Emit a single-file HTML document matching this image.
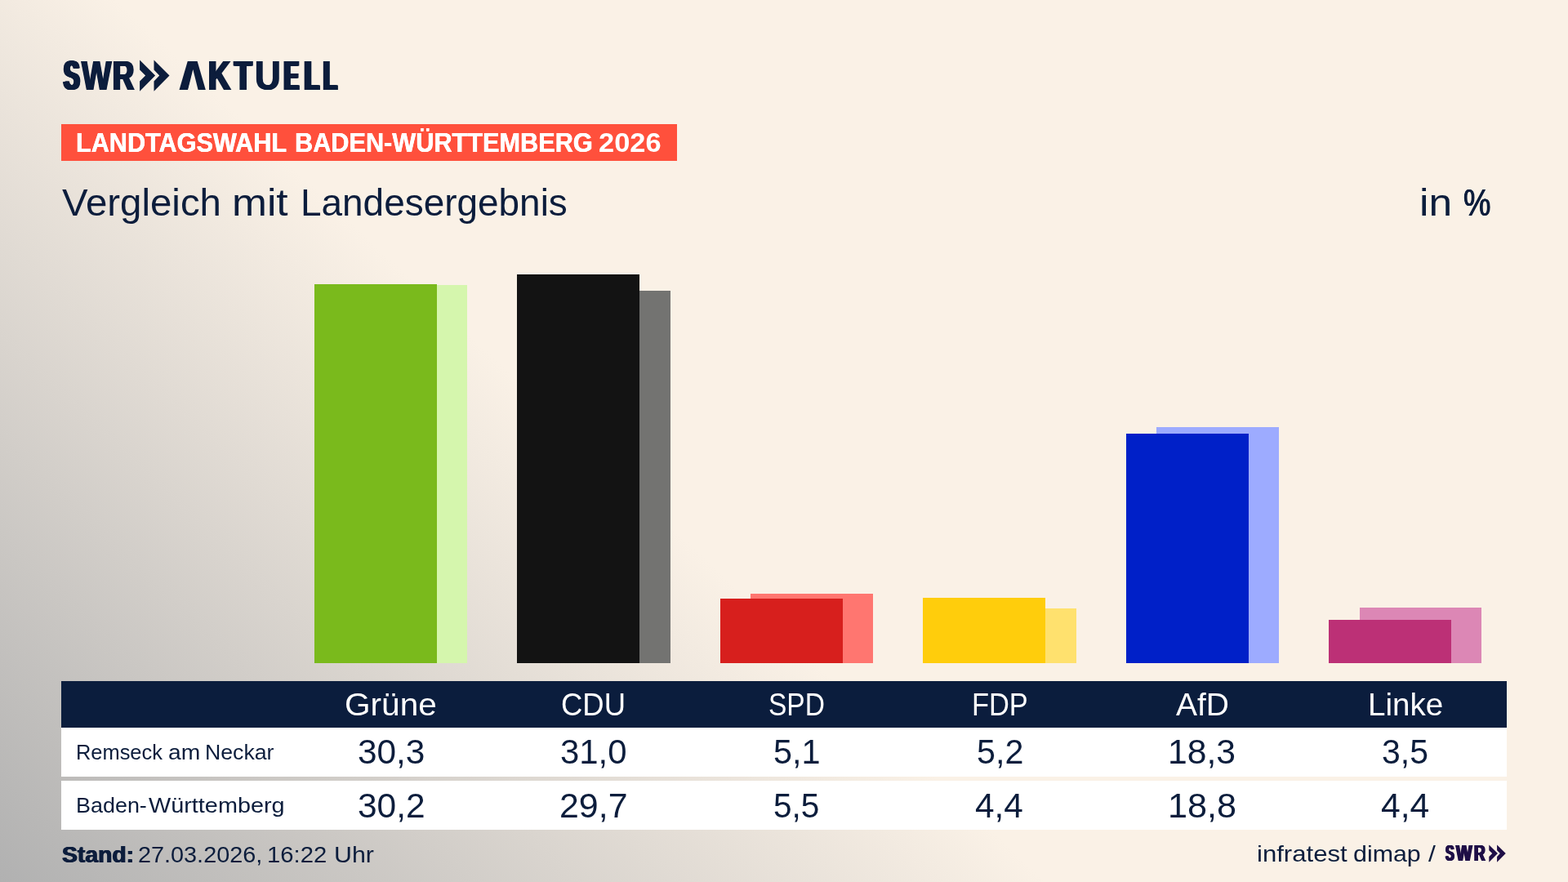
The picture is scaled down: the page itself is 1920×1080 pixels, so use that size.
<!DOCTYPE html>
<html lang="de">
<head>
<meta charset="utf-8">
<title>SWR Aktuell – Landtagswahl Baden-Württemberg 2026 – Vergleich mit Landesergebnis</title>
<style>
html,body{margin:0;padding:0;}
body{width:1920px;height:1080px;overflow:hidden;position:relative;
  font-family:"Liberation Sans",sans-serif;color:#0c1d3c;background:#faf1e6;}
#bg{position:absolute;left:0;top:0;width:1920px;height:1080px;
  background:linear-gradient(43.5deg,#b1b1b1 0px,#faf1e6 882px);}
.t{position:absolute;white-space:nowrap;line-height:1;transform-origin:0 0;margin:0;padding:0;}
.w{left:0;font-size:0;}
.w span{display:inline-block;position:relative;width:0;transform-origin:0 0;font-size:var(--fs);}
#tag{position:absolute;left:75px;top:152px;width:754px;height:45px;background:#ff503c;}
#thead{position:absolute;left:75px;top:834px;width:1770px;height:57px;background:#0b1d3d;}
.row{position:absolute;left:75px;width:1770px;height:60px;background:#fff;}
svg{position:absolute;left:0;top:0;}
</style>
</head>
<body>
<div id="bg"></div>

<header>
<div id="tag"></div>
<div class="t w" id="swr" style="top:67.75px;--fs:50.75px;font-weight:700;color:#0c1d3c;"><span style="left:78px;transform:scaleX(0.5752);text-shadow:0.86px 0 0 #0c1d3c,-0.86px 0 0 #0c1d3c,1.71px 0 0 #0c1d3c,-1.71px 0 0 #0c1d3c,2.57px 0 0 #0c1d3c,-2.57px 0 0 #0c1d3c,3.42px 0 0 #0c1d3c,-3.42px 0 0 #0c1d3c;">S</span><span style="left:100px;transform:scaleX(0.7586);text-shadow:0.74px 0 0 #0c1d3c,-0.74px 0 0 #0c1d3c,1.48px 0 0 #0c1d3c,-1.48px 0 0 #0c1d3c;">W</span><span style="left:138px;transform:scaleX(0.7140);text-shadow:0.98px 0 0 #0c1d3c,-0.98px 0 0 #0c1d3c,1.97px 0 0 #0c1d3c,-1.97px 0 0 #0c1d3c;">R</span></div>
<div class="t w" id="akt" style="top:67.75px;--fs:50.5px;font-weight:700;color:#0c1d3c;"><span style="left:221px;transform:scaleX(0.8059);text-shadow:0.77px 0 0 #0c1d3c,-0.77px 0 0 #0c1d3c,1.55px 0 0 #0c1d3c,-1.55px 0 0 #0c1d3c,2.32px 0 0 #0c1d3c,-2.32px 0 0 #0c1d3c,3.09px 0 0 #0c1d3c,-3.09px 0 0 #0c1d3c;clip-path:polygon(-20.00px -20.00px,75.75px -20.00px,75.75px 75.75px,26.93px 75.75px,26.93px 42.75px,18.99px 17.25px,11.17px 42.75px,11.17px 75.75px,-20.00px 75.75px);">A</span><span style="left:255px;transform:scaleX(0.7478);text-shadow:0.98px 0 0 #0c1d3c,-0.98px 0 0 #0c1d3c,1.97px 0 0 #0c1d3c,-1.97px 0 0 #0c1d3c;">K</span><span style="left:287px;transform:scaleX(0.6945);text-shadow:0.87px 0 0 #0c1d3c,-0.87px 0 0 #0c1d3c,1.73px 0 0 #0c1d3c,-1.73px 0 0 #0c1d3c,2.60px 0 0 #0c1d3c,-2.60px 0 0 #0c1d3c;">T</span><span style="left:312px;transform:scaleX(0.8691);text-shadow:0.96px 0 0 #0c1d3c,-0.96px 0 0 #0c1d3c;">U</span><span style="left:348px;transform:scaleX(0.5238);text-shadow:0.84px 0 0 #0c1d3c,-0.84px 0 0 #0c1d3c,1.67px 0 0 #0c1d3c,-1.67px 0 0 #0c1d3c,2.51px 0 0 #0c1d3c,-2.51px 0 0 #0c1d3c,3.35px 0 0 #0c1d3c,-3.35px 0 0 #0c1d3c,4.19px 0 0 #0c1d3c,-4.19px 0 0 #0c1d3c;">E</span><span style="left:373px;transform:scaleX(0.5699);text-shadow:0.99px 0 0 #0c1d3c,-0.99px 0 0 #0c1d3c,1.98px 0 0 #0c1d3c,-1.98px 0 0 #0c1d3c,2.97px 0 0 #0c1d3c,-2.97px 0 0 #0c1d3c,3.96px 0 0 #0c1d3c,-3.96px 0 0 #0c1d3c;">L</span><span style="left:396px;transform:scaleX(0.5409);text-shadow:0.97px 0 0 #0c1d3c,-0.97px 0 0 #0c1d3c,1.95px 0 0 #0c1d3c,-1.95px 0 0 #0c1d3c,2.92px 0 0 #0c1d3c,-2.92px 0 0 #0c1d3c,3.90px 0 0 #0c1d3c,-3.90px 0 0 #0c1d3c;">L</span></div>
<div class="t w" id="tagt" style="top:157.25px;--fs:34.0px;font-weight:700;color:#fff;"><span style="left:93px;transform:scaleX(0.9009);text-shadow:0.32px 0 0 #fff,-0.32px 0 0 #fff;">LANDTAGSWAHL</span> <span style="left:361px;transform:scaleX(0.9024);text-shadow:0.31px 0 0 #fff,-0.31px 0 0 #fff;">BADEN-WÜRTTEMBERG</span> <span style="left:733px;transform:scaleX(1.0129);">2026</span></div>
<div class="t w" id="title" style="top:224.75px;--fs:46.0px;font-weight:400;color:#0c1d3c;"><span style="left:76px;transform:scaleX(1.0301);">Vergleich</span> <span style="left:284px;transform:scaleX(1.1200);">mit</span> <span style="left:368px;transform:scaleX(0.9983);">Landesergebnis</span></div>
<div class="t w" id="unit" style="top:224.75px;--fs:46.0px;font-weight:400;color:#0c1d3c;"><span style="left:1738px;transform:scaleX(1.1200);">in</span> <span style="left:1792px;transform:scaleX(0.8171);text-shadow:0.47px 0 0 #0c1d3c,-0.47px 0 0 #0c1d3c;">%</span></div>
<svg width="1920" height="1080" viewBox="0 0 1920 1080" aria-hidden="true">
  <g fill="#0c1d3c">
    <polygon points="171.1,73.6 190.1,92.6 171.1,111.7 171.1,99.5 178.1,92.6 171.1,85.6"/>
    <polygon points="188.5,73.6 207.5,92.6 188.5,111.7 188.5,99.5 195.2,92.6 188.5,85.6"/>
  </g>
</svg>
</header>

<section id="chart">
<svg width="1920" height="1080" viewBox="0 0 1920 1080" shape-rendering="crispEdges" aria-hidden="true">
<rect x="422" y="349" width="150" height="463" fill="#d5f6ad"/>
<rect x="385" y="348" width="150" height="464" fill="#7aba1c"/>
<rect x="671" y="356" width="150" height="456" fill="#737371"/>
<rect x="633" y="336" width="150" height="476" fill="#131313"/>
<rect x="919" y="727" width="150" height="85" fill="#ff7670"/>
<rect x="882" y="733" width="150" height="79" fill="#d71f1d"/>
<rect x="1168" y="745" width="150" height="67" fill="#ffe16e"/>
<rect x="1130" y="732" width="150" height="80" fill="#ffcd0c"/>
<rect x="1416" y="523" width="150" height="289" fill="#9dabff"/>
<rect x="1379" y="531" width="150" height="281" fill="#0020c8"/>
<rect x="1665" y="744" width="149" height="68" fill="#dc87b5"/>
<rect x="1627" y="759" width="150" height="53" fill="#bc3076"/>
</svg>
</section>

<section id="table">
<div id="thead"></div>
<div class="t" id="h0" style="left:422.00px;top:842.75px;font-size:39.5px;font-weight:400;color:#fff;transform:scaleX(1.0277);">Grüne</div>
<div class="t" id="h1" style="left:687.00px;top:842.75px;font-size:39.5px;font-weight:400;color:#fff;transform:scaleX(0.9232);">CDU</div>
<div class="t" id="h2" style="left:941.00px;top:842.75px;font-size:39.5px;font-weight:400;color:#fff;transform:scaleX(0.8489);">SPD</div>
<div class="t" id="h3" style="left:1190.00px;top:842.75px;font-size:39.5px;font-weight:400;color:#fff;transform:scaleX(0.8708);">FDP</div>
<div class="t" id="h4" style="left:1440.00px;top:842.75px;font-size:39.5px;font-weight:400;color:#fff;transform:scaleX(0.9872);">AfD</div>
<div class="t" id="h5" style="left:1675.00px;top:842.75px;font-size:39.5px;font-weight:400;color:#fff;transform:scaleX(0.9770);">Linke</div>
<div class="row" style="top:891px"></div>
<div class="t w" id="r1" style="top:907.75px;--fs:26.5px;font-weight:400;color:#0c1d3c;"><span style="left:93px;transform:scaleX(0.9591);">Remseck</span> <span style="left:206px;transform:scaleX(1.0658);">am</span> <span style="left:251px;transform:scaleX(1.0065);">Neckar</span></div>
<div class="t" id="a0" style="left:438.00px;top:899.25px;font-size:43.25px;font-weight:400;color:#0c1d3c;transform:scaleX(0.9792);">30,3</div>
<div class="t" id="a1" style="left:686.00px;top:899.25px;font-size:43.25px;font-weight:400;color:#0c1d3c;transform:scaleX(0.9691);">31,0</div>
<div class="t" id="a2" style="left:947.00px;top:899.25px;font-size:43.25px;font-weight:400;color:#0c1d3c;transform:scaleX(0.9583);">5,1</div>
<div class="t" id="a3" style="left:1196.00px;top:899.25px;font-size:43.25px;font-weight:400;color:#0c1d3c;transform:scaleX(0.9534);">5,2</div>
<div class="t" id="a4" style="left:1430.00px;top:899.25px;font-size:43.25px;font-weight:400;color:#0c1d3c;transform:scaleX(0.9868);">18,3</div>
<div class="t" id="a5" style="left:1692.00px;top:899.25px;font-size:43.25px;font-weight:400;color:#0c1d3c;transform:scaleX(0.9469);">3,5</div>
<div class="row" style="top:956px"></div>
<div class="t w" id="r2" style="top:973.25px;--fs:26.25px;font-weight:400;color:#0c1d3c;"><span style="left:93px;transform:scaleX(1.0257);">Baden-</span><span style="left:182px;transform:scaleX(1.0981);">Württemberg</span></div>
<div class="t" id="b0" style="left:438.00px;top:965.00px;font-size:43.0px;font-weight:400;color:#0c1d3c;transform:scaleX(0.9877);">30,2</div>
<div class="t" id="b1" style="left:685.00px;top:965.00px;font-size:43.0px;font-weight:400;color:#0c1d3c;transform:scaleX(0.9980);">29,7</div>
<div class="t" id="b2" style="left:947.00px;top:965.00px;font-size:43.0px;font-weight:400;color:#0c1d3c;transform:scaleX(0.9435);">5,5</div>
<div class="t" id="b3" style="left:1194.00px;top:965.00px;font-size:43.0px;font-weight:400;color:#0c1d3c;transform:scaleX(0.9838);">4,4</div>
<div class="t" id="b4" style="left:1430.00px;top:965.00px;font-size:43.0px;font-weight:400;color:#0c1d3c;transform:scaleX(1.0053);">18,8</div>
<div class="t" id="b5" style="left:1691.00px;top:965.00px;font-size:43.0px;font-weight:400;color:#0c1d3c;transform:scaleX(0.9915);">4,4</div>
</section>

<footer>
<div class="t w" id="stand" style="top:1032.25px;--fs:28.25px;font-weight:400;color:#0c1d3c;"><span style="left:76px;transform:scaleX(1.0018);text-shadow:0.64px 0 0 #0c1d3c,-0.64px 0 0 #0c1d3c;"><b>Stand:</b></span> <span style="left:169px;transform:scaleX(1.0202);">27.03.2026,</span> <span style="left:327px;transform:scaleX(1.0355);">16:22</span> <span style="left:409px;transform:scaleX(1.0756);">Uhr</span></div>
<div class="t w" id="src" style="top:1031.25px;--fs:28.5px;font-weight:400;color:#0c1d3c;"><span style="left:1539px;transform:scaleX(1.0920);">infratest</span> <span style="left:1657px;transform:scaleX(1.0656);">dimap</span> <span style="left:1749px;transform:scaleX(1.1200);">/</span></div>
<div class="t w" id="swr2" style="top:1030.25px;--fs:28.25px;font-weight:700;color:#1f0f47;"><span style="left:1770px;transform:scaleX(0.5687);text-shadow:0.91px 0 0 #1f0f47,-0.91px 0 0 #1f0f47,1.82px 0 0 #1f0f47,-1.82px 0 0 #1f0f47;">S</span><span style="left:1783px;transform:scaleX(0.7312);text-shadow:0.63px 0 0 #1f0f47,-0.63px 0 0 #1f0f47,1.26px 0 0 #1f0f47,-1.26px 0 0 #1f0f47;">W</span><span style="left:1805px;transform:scaleX(0.6691);text-shadow:0.69px 0 0 #1f0f47,-0.69px 0 0 #1f0f47,1.37px 0 0 #1f0f47,-1.37px 0 0 #1f0f47;">R</span></div>
<svg width="1920" height="1080" viewBox="0 0 1920 1080" aria-hidden="true">
  <g fill="#1f0f47" transform="translate(1823.3,1034.4) scale(0.5617)">
    <polygon points="0,0 19,19 0,38.1 0,25.9 7,19 0,12"/>
    <polygon points="17.4,0 36.4,19 17.4,38.1 17.4,25.9 24.1,19 17.4,12"/>
  </g>
</svg>
</footer>
</body>
</html>
